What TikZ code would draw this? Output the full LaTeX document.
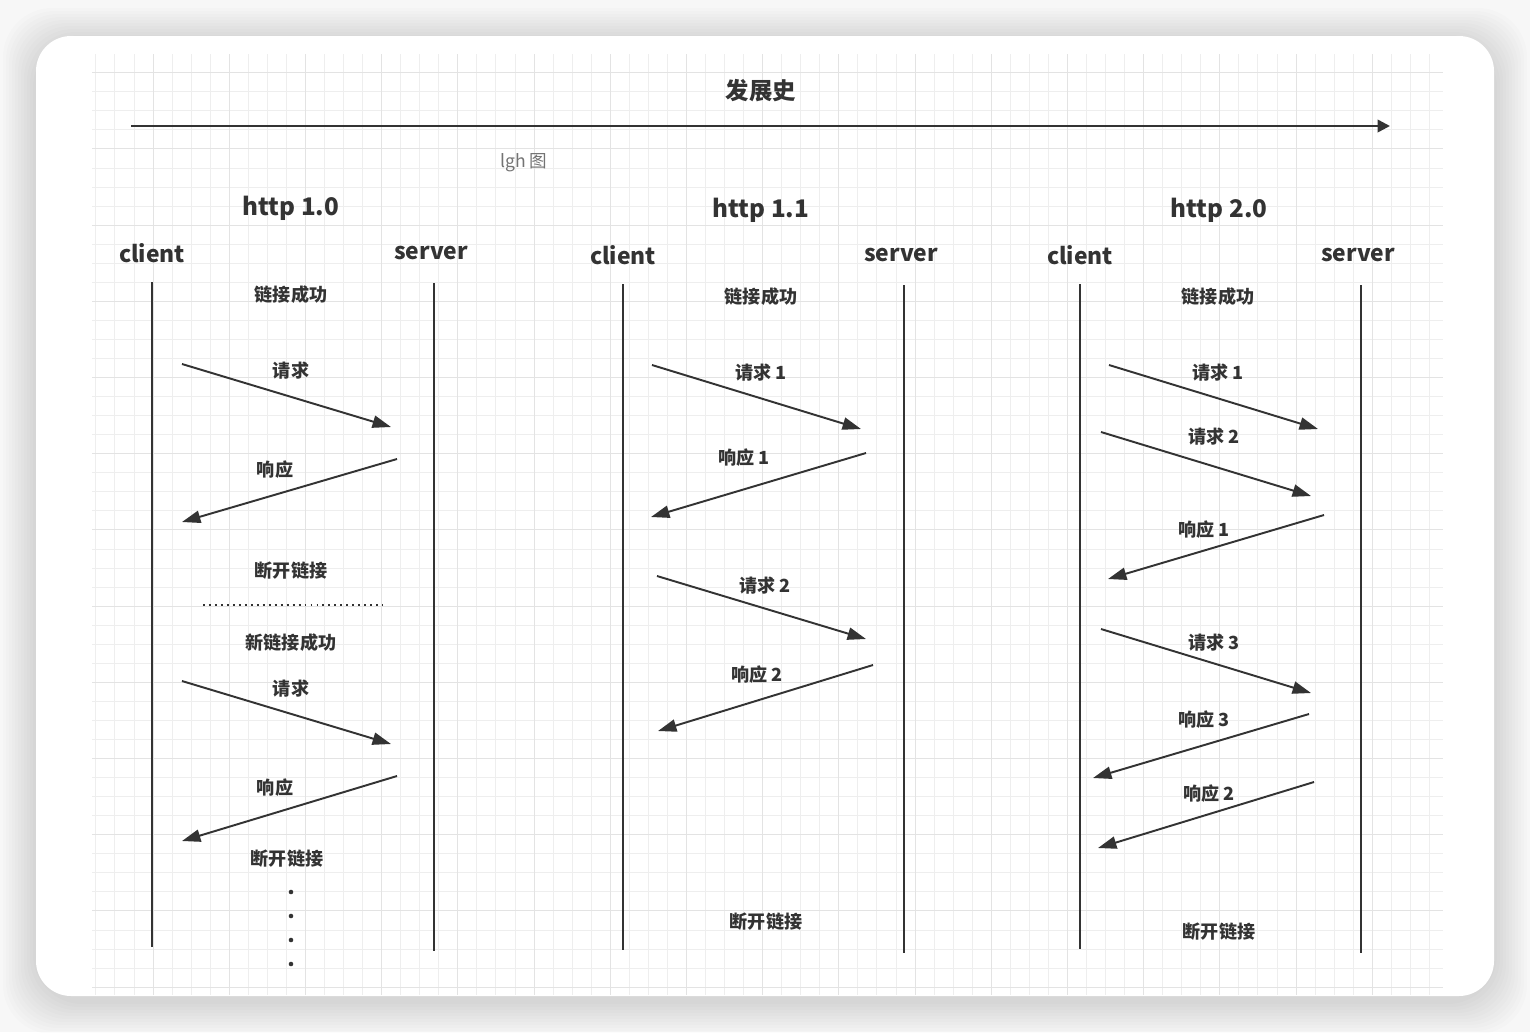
\documentclass[tikz,border=0pt]{standalone}
\usepackage{fontspec}
\setmainfont{Noto Sans CJK SC}
\usetikzlibrary{arrows.meta,positioning}
\definecolor{ink}{HTML}{333333}
\definecolor{bggray}{HTML}{F7F7F7}
\definecolor{gridminor}{HTML}{EEEEEE}
\definecolor{gridmajor}{HTML}{E3E3E3}

\begin{document}
\begin{tikzpicture}[x=0.02cm,y=-0.02cm,>={Triangle[length=10.5pt,width=7pt]},
				life/.style={draw=ink,line width=1.1pt}
				,msg/.style={draw=ink,line width=1.1pt,->}
				,timeline/.style={draw=ink,line width=1.4pt,-{Triangle[length=7pt,width=7pt]}}
				,title/.style={font=\bfseries\fontsize{13.3}{16}\selectfont,text=ink}
				,head/.style={font=\bfseries\fontsize{13.8}{17}\selectfont,text=ink}
				,role/.style={font=\bfseries\fontsize{13}{16}\selectfont,text=ink}
				,lbl/.style={font=\bfseries\fontsize{10.3}{12}\selectfont,text=ink,inner sep=1pt}
				,note/.style={font=\fontsize{10}{12}\selectfont,text=black!55}
				,dot/.style={circle,fill=ink,inner sep=0pt,minimum size=2.6pt}
				]
				
				% card and grid
				\fill[bggray] (0,0) rectangle (1530,1032);
				\useasboundingbox (0,0) rectangle (1530,1032);
				\foreach \d in {33,30,...,3}
				\fill[black,opacity=0.012,rounded corners=28pt] (36-\d,36-\d+5) rectangle (1494+\d,996+\d+5);
				\fill[white,rounded corners=20pt] (36,36) rectangle (1494,996);
				\begin{scope}
				\clip (92,54) rectangle (1443,995);
				\foreach \i in {-4,...,68}
				\draw[gridminor,line width=0.5pt] ({153+19.05*\i},54) -- ++(0,941);
				\foreach \j in {-1,...,50}
				\draw[gridminor,line width=0.5pt] (92,{72.7+19.05*\j}) -- ++(1351,0);
				\foreach \i in {-1,...,17}
				\draw[gridmajor,line width=0.5pt] ({153+76.2*\i},54) -- ++(0,941);
				\foreach \j in {0,...,12}
				\draw[gridmajor,line width=0.5pt] (92,{72.7+76.2*\j}) -- ++(1351,0);
				\end{scope}
				
				% timeline
				\node[title] (hist) at (761,91) {发展史};
				\coordinate (t0) at (131,126);
				\coordinate (t1) at (1390,126);
				\draw[timeline] (t0) -- (t1);
				\node[note] (lgh) at (524,163) {lgh 图};
				
				% http 1.0
				\node[head] (h10) at (291,208) {http 1.0};
				\node[role] (c10) at (152,253) {client};
				\node[role] (s10) at (431,253) {server};
				\coordinate (c10a) at (152,282);
				\coordinate (c10b) at (152,947);
				\coordinate (s10a) at (434,283);
				\coordinate (s10b) at (434,951);
				\draw[life] (c10a) -- (c10b);
				\draw[life] (s10a) -- (s10b);
				\node[lbl] (ok10) at (291,295) {链接成功};
				\coordinate (q10a) at (182,364);
				\coordinate (q10b) at (391,427);
				\draw[msg] (q10a) -- (q10b);
				\node[lbl] (lq10) at (291,371) {请求};
				\coordinate (r10a) at (397,459);
				\coordinate (r10b) at (182,522);
				\draw[msg] (r10a) -- (r10b);
				\node[lbl] (lr10) at (275,470) {响应};
				\node[lbl] (end10) at (291,571) {断开链接};
				\coordinate (cut0) at (203,605);
				\coordinate (cut1) at (383,605);
				\draw[ink,line width=1.2pt,dash pattern=on 1.1pt off 2.3pt] (cut0) -- (cut1);
				\node[lbl] (new10) at (291,643) {新链接成功};
				\coordinate (q11a) at (182,681);
				\coordinate (q11b) at (391,744);
				\draw[msg] (q11a) -- (q11b);
				\node[lbl] (lq11) at (291,689) {请求};
				\coordinate (r11a) at (397,776);
				\coordinate (r11b) at (182,841);
				\draw[msg] (r11a) -- (r11b);
				\node[lbl] (lr11) at (275,788) {响应};
				\node[lbl] (end11) at (287,859) {断开链接};
				\node[dot] (d1) at (291,892) {};
				\node[dot] (d2) at (291,916) {};
				\node[dot] (d3) at (291,940) {};
				\node[dot] (d4) at (291,964) {};
				
				% http 1.1
				\node[head] (h11) at (761,210) {http 1.1};
				\node[role] (c11) at (623,255) {client};
				\node[role] (s11) at (901,255) {server};
				\coordinate (c11a) at (623,284);
				\coordinate (c11b) at (623,950);
				\coordinate (s11a) at (904,285);
				\coordinate (s11b) at (904,953);
				\draw[life] (c11a) -- (c11b);
				\draw[life] (s11a) -- (s11b);
				\node[lbl] (ok11) at (761,297) {链接成功};
				\coordinate (q21a) at (652,365);
				\coordinate (q21b) at (861,429);
				\draw[msg] (q21a) -- (q21b);
				\node[lbl] (lq21) at (761,373) {请求~1};
				\coordinate (r21a) at (866,453);
				\coordinate (r21b) at (651,517);
				\draw[msg] (r21a) -- (r21b);
				\node[lbl] (lr21) at (744,458) {响应~1};
				\coordinate (q22a) at (657,576);
				\coordinate (q22b) at (866,639);
				\draw[msg] (q22a) -- (q22b);
				\node[lbl] (lq22) at (765,586) {请求~2};
				\coordinate (r22a) at (873,665);
				\coordinate (r22b) at (658,731);
				\draw[msg] (r22a) -- (r22b);
				\node[lbl] (lr22) at (757,675) {响应~2};
				\node[lbl] (end21) at (766,922) {断开链接};
				
				% http 2.0
				\node[head] (h20) at (1219,210) {http 2.0};
				\node[role] (c20) at (1080,255) {client};
				\node[role] (s20) at (1358,255) {server};
				\coordinate (c20a) at (1080,284);
				\coordinate (c20b) at (1080,949);
				\coordinate (s20a) at (1361,285);
				\coordinate (s20b) at (1361,953);
				\draw[life] (c20a) -- (c20b);
				\draw[life] (s20a) -- (s20b);
				\node[lbl] (ok20) at (1218,297) {链接成功};
				\coordinate (q31a) at (1109,365);
				\coordinate (q31b) at (1318,429);
				\draw[msg] (q31a) -- (q31b);
				\node[lbl] (lq31) at (1218,373) {请求~1};
				\coordinate (q32a) at (1101,432);
				\coordinate (q32b) at (1311,496);
				\draw[msg] (q32a) -- (q32b);
				\node[lbl] (lq32) at (1214,437) {请求~2};
				\coordinate (r31a) at (1324,515);
				\coordinate (r31b) at (1108,579);
				\draw[msg] (r31a) -- (r31b);
				\node[lbl] (lr31) at (1204,530) {响应~1};
				\coordinate (q33a) at (1101,629);
				\coordinate (q33b) at (1311,693);
				\draw[msg] (q33a) -- (q33b);
				\node[lbl] (lq33) at (1214,643) {请求~3};
				\coordinate (r33a) at (1309,714);
				\coordinate (r33b) at (1093,778);
				\draw[msg] (r33a) -- (r33b);
				\node[lbl] (lr33) at (1204,720) {响应~3};
				\coordinate (r32a) at (1314,782);
				\coordinate (r32b) at (1098,848);
				\draw[msg] (r32a) -- (r32b);
				\node[lbl] (lr32) at (1209,794) {响应~2};
				\node[lbl] (end31) at (1219,932) {断开链接};
			\end{tikzpicture}
\end{document}
